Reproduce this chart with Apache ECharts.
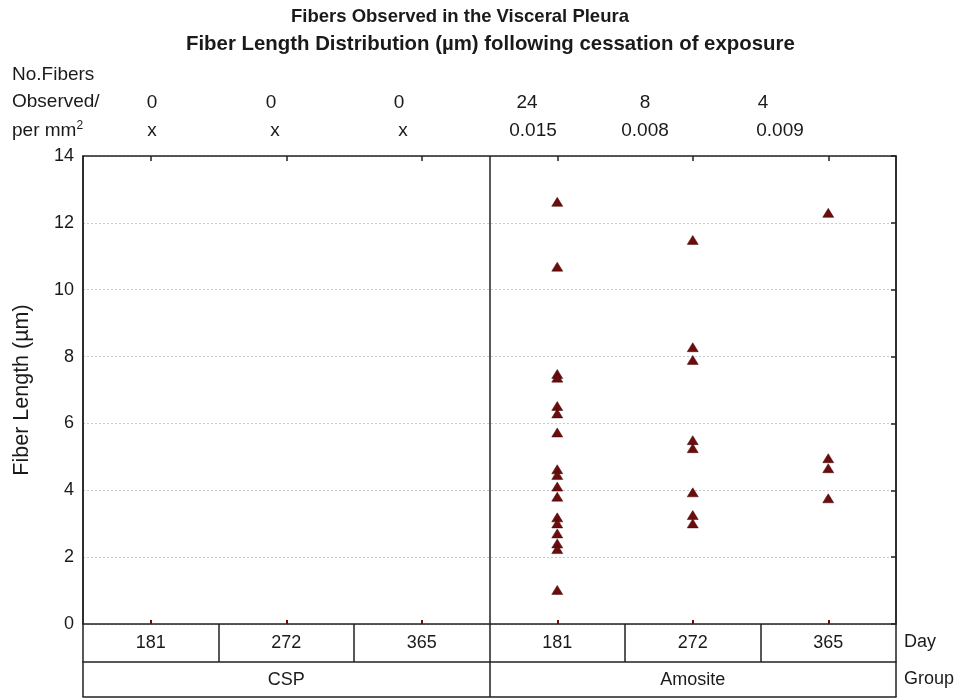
<!DOCTYPE html>
<html>
<head>
<meta charset="utf-8">
<script src="https://cdn.jsdelivr.net/npm/echarts@6/dist/echarts.min.js"></script>
<style>
  html, body { margin: 0; padding: 0; background: #fff; }
  #chart { width: 961px; height: 698px; }
</style>
</head>
<body>
<div id="chart"></div>
<script>
// Categories: day after cessation of exposure, per exposure group
const days = ['181', '272', '365', '181', '272', '365'];
const groups = ['CSP', 'Amosite'];

// Fiber counts and density for each day/group column
const fiberCounts = ['0', '0', '0', '24', '8', '4'];
const fibersPerMm2 = ['x', 'x', 'x', '0.015', '0.008', '0.009'];

// Fiber lengths (µm) observed in each Amosite column
const amosite181 = [12.63, 10.69, 7.48, 7.37, 6.52, 6.30, 5.73, 4.63, 4.46, 4.11, 3.81,
                    3.19, 3.01, 2.71, 2.41, 2.24, 1.02];
const amosite272 = [11.49, 8.28, 7.90, 5.50, 5.26, 3.94, 3.26, 3.01];
const amosite365 = [12.30, 4.96, 4.66, 3.76];

// y axis ticks
const yMin = 0, yMax = 14, yStep = 2;

const scatterData = [];
amosite181.forEach(v => scatterData.push([3, v]));
amosite272.forEach(v => scatterData.push([4, v]));
amosite365.forEach(v => scatterData.push([5, v]));

const FONT = 'Liberation Sans, Arial, sans-serif';
const TXT = '#1a1a1a';
const LINE = '#222';
const MARK = '#6c0c0c';

const chart = echarts.init(document.getElementById('chart'));

const gridLeft = 83, gridRight = 65, gridTop = 156, gridBottom = 74;
const rowDay = 38, rowGroup = 35;

// header text positions (x centres) for the count and density rows
const countX = [152, 271, 399, 527, 645, 763];
const densityX = [152, 275, 403, 533, 645, 780];

const graphics = [
  { type: 'text', left: 291, top: 7, style: { text: 'Fibers Observed in the Visceral Pleura', font: 'bold 18.5px ' + FONT, fill: TXT } },
  { type: 'text', left: 186, top: 34, style: { text: 'Fiber Length Distribution (µm) following cessation of exposure', font: 'bold 20.4px ' + FONT, fill: TXT } },
  { type: 'text', left: 12, top: 65, style: { text: 'No.Fibers', font: '19px ' + FONT, fill: TXT } },
  { type: 'text', left: 12, top: 92, style: { text: 'Observed/', font: '19px ' + FONT, fill: TXT } },
  { type: 'text', left: 12, top: 120, style: {
      text: '{a|per mm}{s|2}',
      rich: { a: { font: '19px ' + FONT, fill: TXT }, s: { font: '12px ' + FONT, fill: TXT, verticalAlign: 'top', padding: [0, 0, 9, 0] } }
  } },
  { type: 'text', left: 904, top: 633, style: { text: 'Day', font: '18px ' + FONT, fill: TXT } },
  { type: 'text', left: 904, top: 670, style: { text: 'Group', font: '18px ' + FONT, fill: TXT } }
];
fiberCounts.forEach((t, i) => graphics.push({ type: 'text', x: countX[i], y: 93, style: { text: t, font: '19px ' + FONT, fill: TXT, align: 'center' } }));
fibersPerMm2.forEach((t, i) => graphics.push({ type: 'text', x: densityX[i], y: 121, style: { text: t, font: '19px ' + FONT, fill: TXT, align: 'center' } }));

chart.setOption({
  animation: false,
  backgroundColor: '#fff',
  grid: { left: gridLeft, right: gridRight, top: gridTop, bottom: gridBottom, containLabel: false },
  graphic: graphics,
  xAxis: [
    { // Day row
      type: 'category', data: days, position: 'bottom', boundaryGap: true,
      axisLine: { show: true, onZero: false, lineStyle: { color: LINE, width: 1.5 } },
      axisTick: { show: true, length: rowDay, interval: 0, lineStyle: { color: LINE, width: 1.5 } },
      axisLabel: { show: true, margin: 10, fontSize: 18, fontFamily: FONT, color: TXT, interval: 0 },
      splitLine: { show: false }
    },
    { // Group row, with divider through the plot
      type: 'category', data: groups, position: 'bottom', offset: rowDay, boundaryGap: true,
      axisLine: { show: true, onZero: false, lineStyle: { color: LINE, width: 1.5 } },
      axisTick: { show: true, length: rowGroup, interval: 0, lineStyle: { color: LINE, width: 1.5 } },
      axisLabel: { show: true, margin: 9, fontSize: 18, fontFamily: FONT, color: TXT, interval: 0 },
      splitLine: { show: true, interval: 0, lineStyle: { color: LINE, width: 1.5 } }
    },
    { // bottom edge of the table
      type: 'category', data: groups, position: 'bottom', offset: rowDay + rowGroup,
      axisLine: { show: true, onZero: false, lineStyle: { color: LINE, width: 1.5 } },
      axisTick: { show: false }, axisLabel: { show: false }, splitLine: { show: false }
    },
    { // top frame with inward ticks
      type: 'category', data: days, position: 'top',
      axisLine: { show: true, onZero: false, lineStyle: { color: LINE, width: 1.5 } },
      axisTick: { show: true, inside: true, alignWithLabel: true, length: 5, interval: 0, lineStyle: { color: LINE, width: 1.5 } },
      axisLabel: { show: false }, splitLine: { show: false }
    },
    { // zero markers at each column
      type: 'category', data: days, position: 'bottom',
      axisLine: { show: false, onZero: false },
      axisTick: { show: true, inside: true, alignWithLabel: true, length: 4, interval: 0, lineStyle: { color: MARK, width: 2 } },
      axisLabel: { show: false }, splitLine: { show: false }
    }
  ],
  yAxis: [
    {
      type: 'value', min: yMin, max: yMax, interval: yStep, position: 'left',
      name: 'Fiber Length (µm)', nameLocation: 'middle', nameGap: 50,
      nameTextStyle: { fontSize: 21.5, fontFamily: FONT, color: TXT },
      axisLine: { show: true, onZero: false, lineStyle: { color: LINE, width: 1.5 } },
      axisTick: { show: false },
      axisLabel: { margin: 9, fontSize: 18, fontFamily: FONT, color: TXT },
      splitLine: { show: true, lineStyle: { color: '#c9c9c9', type: [2, 2], width: 1 } }
    },
    {
      type: 'value', min: yMin, max: yMax, interval: yStep, position: 'right',
      axisLine: { show: true, onZero: false, lineStyle: { color: LINE, width: 1.5 } },
      axisTick: { show: true, inside: true, length: 5, lineStyle: { color: LINE, width: 1.5 } },
      axisLabel: { show: false }, splitLine: { show: false }
    }
  ],
  series: [
    {
      type: 'scatter', xAxisIndex: 0, yAxisIndex: 0,
      symbol: 'triangle', symbolSize: [11, 9],
      itemStyle: { color: MARK, opacity: 1, borderColor: '#3e0404', borderWidth: 0.5 },
      data: scatterData
    }
  ]
});
</script>
</body>
</html>
